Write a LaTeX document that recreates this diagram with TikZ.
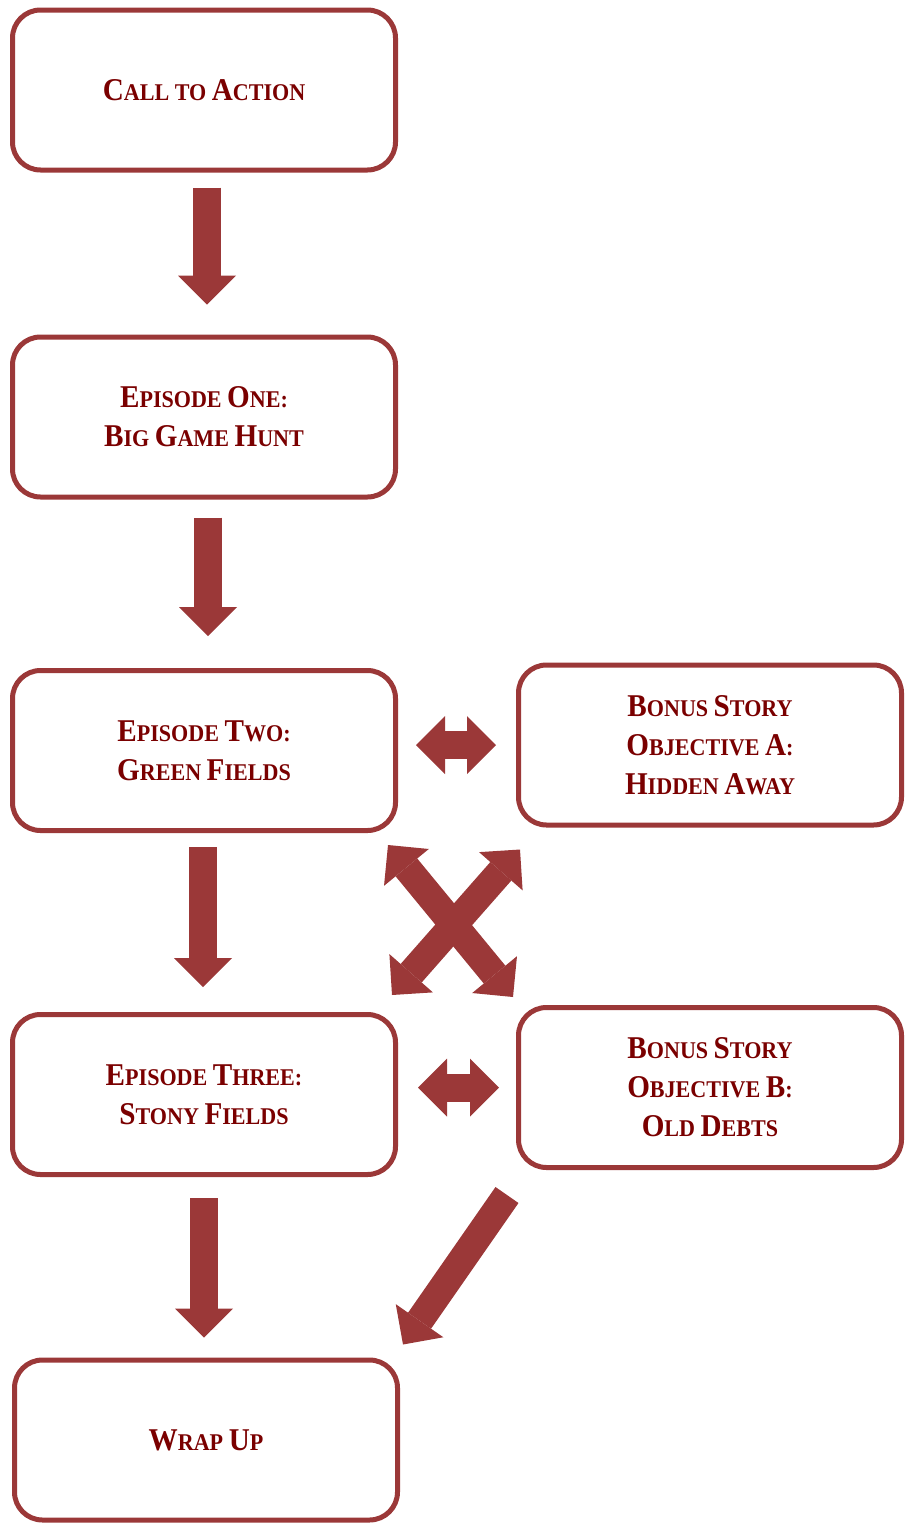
\documentclass[tikz,border=0pt]{standalone}
\usepackage{fontspec}
\newfontfamily\boxfont{Liberation Serif}[FakeStretch=0.92]
\usetikzlibrary{arrows.meta}
\definecolor{framered}{RGB}{155,56,56}
\definecolor{textred}{RGB}{122,0,0}
\newcommand{\ini}[1]{{\fontsize{31.7}{39}\selectfont #1}}
\tikzset{
  box/.style={draw=framered, line width=5pt, rounded corners=28pt,
    minimum width=383pt, minimum height=160pt, inner sep=0pt,
    align=center, text=textred,
    font=\boxfont\bfseries\fontsize{24}{39}\selectfont},
  bigarrow/.style={draw=framered, line width=28pt,
    -{Triangle[length=29pt,width=58pt,line width=0pt]}},
  twoway/.style={draw=framered, line width=28pt,
    {Triangle[length=29pt,width=58pt,line width=0pt]}-{Triangle[length=29pt,width=58pt,line width=0pt]}},
}
\begin{document}
\begin{tikzpicture}[x=1pt,y=-1pt]
\useasboundingbox (0,0) rectangle (912,1523);

\node[box] (call) at (204,90) {\ini{C}ALL TO \ini{A}CTION};
\node[box] (ep1) at (204,417) {\ini{E}PISODE \ini{O}NE:\\ \ini{B}IG \ini{G}AME \ini{H}UNT};
\node[box] (ep2) at (204,750.5) {\ini{E}PISODE \ini{T}WO:\\ \ini{G}REEN \ini{F}IELDS};
\node[box] (objA) at (710,745) {\ini{B}ONUS \ini{S}TORY\\ \ini{O}BJECTIVE \ini{A}:\\ \ini{H}IDDEN \ini{A}WAY};
\node[box] (ep3) at (204,1094.5) {\ini{E}PISODE \ini{T}HREE:\\ \ini{S}TONY \ini{F}IELDS};
\node[box] (objB) at (710,1087.5) {\ini{B}ONUS \ini{S}TORY\\ \ini{O}BJECTIVE \ini{B}:\\ \ini{O}LD \ini{D}EBTS};
\node[box] (wrap) at (206,1440) {\ini{W}RAP \ini{U}P};

\path[bigarrow, shorten <=15pt, shorten >=30pt] ([shift={(3,0)}]call.south) -- ([shift={(3,0)}]ep1.north);
\path[bigarrow, shorten <=18pt, shorten >=32pt] ([shift={(4,0)}]ep1.south) -- ([shift={(4,0)}]ep2.north);
\path[bigarrow, shorten <=14pt, shorten >=25pt] ([shift={(-1,0)}]ep2.south) -- ([shift={(-1,0)}]ep3.north);
\path[bigarrow, shorten <=21pt, shorten >=20pt] (ep3.south) -- (ep3.south |- wrap.north);
\path[twoway, shorten <=18pt, shorten >=20pt] (ep2.east |- objA.west) -- (objA.west);
\path[twoway, shorten <=20pt, shorten >=17pt] (ep3.east |- objB.west) -- (objB.west);
\path[twoway] ([shift={(-10,12)}]ep2.south east) -- ([shift={(-3,-8)}]objB.north west);
\path[twoway] ([shift={(4,22)}]objA.south west) -- ([shift={(-6,-17)}]ep3.north east);
\path[bigarrow] ([shift={(-9,25)}]objB.south west) -- ([shift={(3,-13)}]wrap.north east);
\end{tikzpicture}
\end{document}
